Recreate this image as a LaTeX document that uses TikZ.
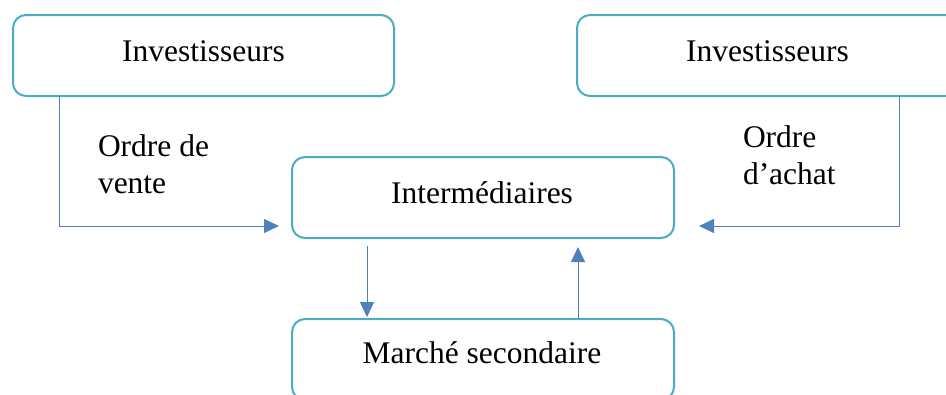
\documentclass[tikz,border=0pt]{standalone}
\usepackage{fontspec}
\setmainfont{Liberation Serif}
\usetikzlibrary{arrows.meta}
\definecolor{boxc}{HTML}{4BACC6}
\definecolor{arrc}{HTML}{4F81BD}
\begin{document}
\begin{tikzpicture}[x=1pt,y=-1pt,
  box/.style={draw=boxc, line width=2pt, rounded corners=13pt, fill=white,
    minimum width=381pt, minimum height=81pt, outer sep=0pt, inner sep=0pt},
  conn/.style={draw=arrc, line width=1pt, -{Triangle[length=15pt,width=14pt]}},
  txt/.style={font=\fontsize{31.5}{37}\selectfont, inner sep=0pt, outer sep=0pt},
  lbl/.style={font=\fontsize{31.5}{36.5}\selectfont, inner sep=0pt, outer sep=0pt, align=left}]
\useasboundingbox (0,0) rectangle (946,394);
\clip (0,0) rectangle (946,394);
% boxes
\node[box] (il) at (203.5,55.5) {};
\node[box] (ir) at (767.5,55.5) {};
\node[box, minimum width=382pt] (im) at (483,197.5) {};
\node[box, minimum width=382pt] (ms) at (483,359.5) {};
% box texts
\node[txt, anchor=base] (ilt) at (203.5,61) {Investisseurs};
\node[txt, anchor=base] (irt) at (767.5,61) {Investisseurs};
\node[txt, anchor=base] (imt) at (482,203) {Intermédiaires};
\node[txt, anchor=base] (mst) at (482,363) {Marché secondaire};
% labels (base anchor = baseline of the last line)
\node[lbl, anchor=base west] (lv) at (98,193) {Ordre de\\vente};
\node[lbl, anchor=base west] (la) at (743,184) {Ordre\\d’achat};
% connectors
\draw[conn] ([xshift=46pt]il.south west) |- ([xshift=-13pt,yshift=-28.5pt]im.west);
\draw[conn] ([xshift=-59pt]ir.south east) |- ([xshift=25pt,yshift=-28.5pt]im.east);
\draw[conn] ([xshift=75pt,yshift=-8pt]im.south west) -- ([xshift=75pt,yshift=2pt]ms.north west);
\draw[conn] ([xshift=286pt]ms.north west) -- ([xshift=286pt,yshift=-9pt]im.south west);
\end{tikzpicture}
\end{document}
